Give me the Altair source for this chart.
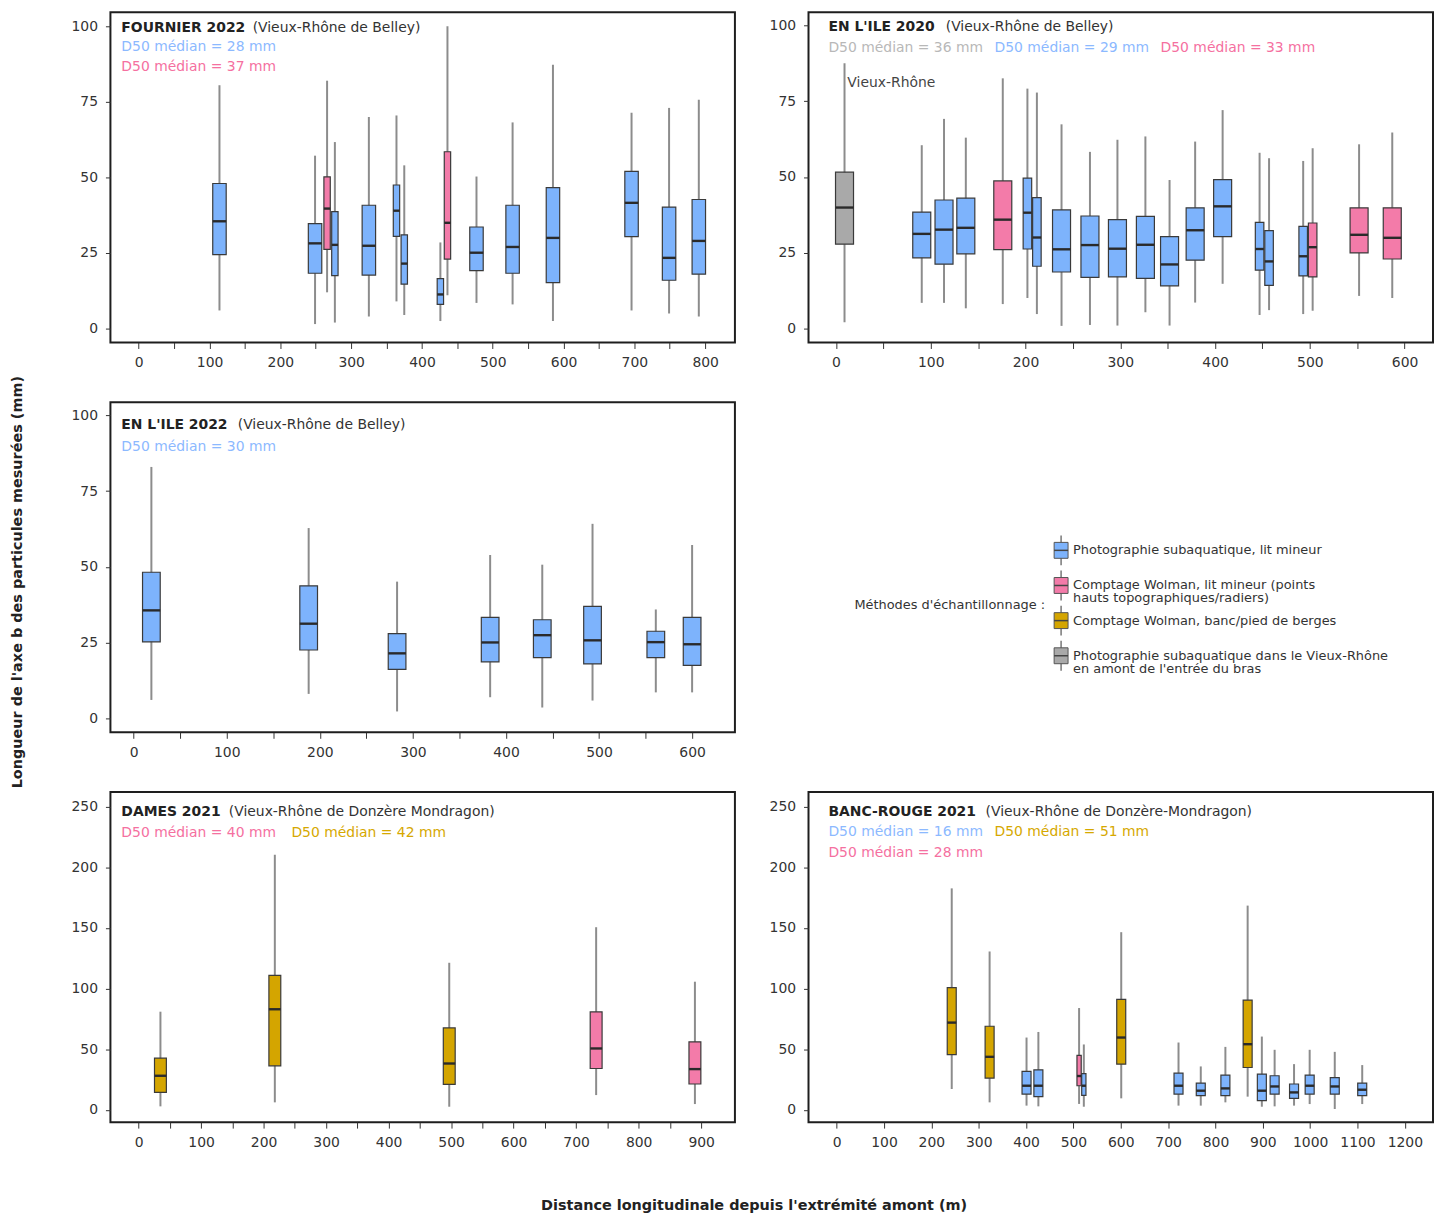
import altair as alt
import pandas as pd

FONT = "DejaVu Sans"

# ---------------- data ----------------
# method codes: P = photo lit mineur, W = Wolman lit mineur, B = Wolman banc, V = photo Vieux-Rhône
METH_CODES = ["P", "W", "B", "V"]
METH_LABELS = [
    "Photographie subaquatique, lit mineur",
    "Comptage Wolman, lit mineur (points\nhauts topographiques/radiers)",
    "Comptage Wolman, banc/pied de berges",
    "Photographie subaquatique dans le Vieux-Rhône\nen amont de l'entrée du bras",
]
METH_FILL = ["#7db3fc", "#f37ba9", "#d4a500", "#a9a9a9"]

# FOURNIER 2022
F22_DIST = [114, 249, 266, 277, 325, 364, 375, 426, 436, 477, 528, 585, 696, 749, 791]
F22_METH = ["P", "P", "W", "P", "P", "P", "P", "P", "W", "P", "P", "P", "P", "P", "P"]
F22_LO = [6, 1.5, 12, 2, 4, 9, 4.5, 2.5, 11, 8.5, 8, 2.5, 6, 5, 4]
F22_Q1 = [24.5, 18.3, 26.2, 17.5, 17.7, 30.5, 14.7, 8, 23, 19.2, 18.3, 15.2, 30.4, 16, 18]
F22_MED = [35.5, 28.2, 39.7, 27.7, 27.4, 39, 21.5, 11.3, 35, 25.1, 27, 30, 41.6, 23.4, 29]
F22_Q3 = [48, 34.7, 50.2, 38.7, 40.8, 47.5, 31, 16.5, 58.5, 33.6, 40.8, 46.6, 52, 40.2, 42.7]
F22_HI = [80.5, 57.2, 82, 61.7, 70, 70.5, 54, 28.5, 100, 50.3, 68.2, 87.3, 71.4, 73, 75.7]

# EN L'ILE 2020
I20_DIST = [9, 90.5, 114, 137, 176, 202, 212, 238, 268, 297, 326.5, 352, 379, 408, 447, 457, 493, 503, 552, 587]
I20_METH = ["V", "P", "P", "P", "W", "P", "P", "P", "P", "P", "P", "P", "P", "P", "P", "P", "P", "W", "W", "W"]
I20_LO = [2, 8.4, 8.4, 6.6, 8, 10, 4.7, 0.8, 1.1, 0.9, 5.3, 0.9, 8.5, 14.7, 4.4, 6, 4.7, 5.8, 10.7, 10]
I20_Q1 = [27.8, 23.3, 21.2, 24.6, 26, 26.2, 20.5, 18.6, 16.8, 17, 16.5, 14, 22.5, 30.3, 19.2, 14.2, 17.3, 17, 24.9, 22.9]
I20_MED = [39.9, 31.2, 32.6, 33.2, 35.9, 38.2, 30, 26.1, 27.5, 26.3, 27.6, 21.1, 32.4, 40.3, 26.2, 22.1, 23.8, 26.8, 30.9, 29.9]
I20_Q3 = [51.6, 38.4, 42.4, 43, 48.7, 49.6, 43.2, 39.1, 37.1, 35.9, 37, 30.3, 39.8, 49.1, 35, 32.3, 33.7, 34.8, 39.8, 39.8]
I20_HI = [87.6, 60.5, 69.2, 63, 82.6, 79.2, 77.9, 67.4, 58.3, 62.3, 63.4, 49, 61.7, 72.1, 58, 56.2, 55.3, 59.5, 60.8, 64.7]

# EN L'ILE 2022
I22_DIST = [19, 188, 283, 383, 439, 493, 561, 600]
I22_METH = ["P"] * 8
I22_LO = [6, 8, 2.2, 6.9, 3.5, 5.8, 8.5, 8.5]
I22_Q1 = [25.2, 22.5, 16.1, 18.6, 20, 17.9, 20, 17.4]
I22_MED = [35.6, 31.2, 21.4, 25, 27.4, 25.7, 25.1, 24.4]
I22_Q3 = [48.2, 43.7, 27.9, 33.3, 32.5, 36.9, 28.7, 33.3]
I22_HI = [83, 62.8, 45.1, 53.9, 50.7, 64.2, 35.9, 57.2]

# DAMES 2021
D21_DIST = [35, 218, 497, 732, 890]
D21_METH = ["B", "B", "B", "W", "W"]
D21_LO = [3, 6.3, 2.7, 12.3, 4.9]
D21_Q1 = [14.5, 36.4, 21.1, 34.2, 21.4]
D21_MED = [28.2, 83, 38.3, 50.7, 33.7]
D21_Q3 = [42.7, 110.9, 67.6, 80.8, 56.1]
D21_HI = [81, 210.3, 121.3, 150.6, 105.7]

# BANC-ROUGE 2021
BR_DIST = [243, 323, 401, 426, 512, 522, 601, 722, 769, 821, 868, 898, 925, 966, 999, 1052, 1110]
BR_METH = ["B", "B", "P", "P", "W", "P", "B", "P", "P", "P", "B", "P", "P", "P", "P", "P", "P"]
BR_LO = [17.3, 6.3, 3.6, 3, 5, 2.7, 9.6, 3.6, 3.6, 6.3, 11, 2.7, 3, 3.6, 4.9, 0.8, 4.9]
BR_Q1 = [45.7, 26.3, 13.1, 11, 20, 12, 37.8, 13.1, 11.8, 11.8, 35, 7.7, 13.1, 9.6, 13.1, 13.1, 11.8]
BR_MED = [72, 43.8, 20, 20, 28, 20, 59.7, 20, 15.9, 17.8, 54.2, 15.9, 19.4, 14.5, 20, 19.4, 16.7]
BR_Q3 = [100.8, 69, 31.8, 33.1, 45, 30, 91.2, 30.4, 22.2, 28.8, 90.6, 29.6, 28.2, 21.4, 28.8, 26.6, 22.2]
BR_HI = [182.6, 130.6, 59.7, 64.3, 84, 54, 146.5, 55.6, 35.9, 52, 168.4, 60.5, 49.6, 37.8, 49.6, 47.9, 37]

# ---------------- style ----------------
PW, PH = 628, 332
FS = 14
BLUE_T, PINK_T, YEL_T, GREY_T = "#8cb9ff", "#f5709f", "#d6a800", "#b8b8b8"
TXT = "#222222"
COLOR = alt.Color("meth:N", scale=alt.Scale(domain=METH_CODES, range=METH_FILL), legend=None)


def build_df(dist, meth, lo, q1, med, q3, hi):
    rows = []
    for i, d in enumerate(dist):
        nearest = min([abs(d - e) for j, e in enumerate(dist) if j != i] or [999])
        hw = 4.5 if nearest < 15 else 9.5
        rows.append(dict(dist=d, meth=meth[i], lo=lo[i], q1=q1[i], med=med[i],
                         q3=q3[i], hi=hi[i], x0=d - hw, x1=d + hw))
    return pd.DataFrame(rows)


def txt(s, px, py, color=TXT, bold=False):
    return alt.Chart(pd.DataFrame({"t": [s]})).mark_text(
        align="left", baseline="middle", font=FONT, fontSize=FS,
        fontWeight="bold" if bold else "normal", color=color
    ).encode(x=alt.value(px), y=alt.value(py), text="t:N")


def panel(df, xdom, ydom, xticks, xstep, yticks, texts, annot=None):
    xs = alt.Scale(domain=xdom, nice=False, zero=False)
    ys = alt.Scale(domain=ydom, nice=False, zero=False)
    xax = alt.Axis(values=xticks, labelExpr=f"datum.value % {xstep} === 0 ? datum.label : ''",
                   format="d", tickSize=6, labelPadding=7, labelFontSize=FS, labelFont=FONT,
                   labelColor="#333", tickColor="#333", domain=False, grid=False,
                   labelOverlap=False, labelFlush=False, minExtent=30, maxExtent=30)
    yax = alt.Axis(values=yticks, tickSize=5, labelPadding=8, labelFontSize=FS, labelFont=FONT,
                   labelColor="#333", tickColor="#333", domain=False, grid=False,
                   labelOverlap=False, labelFlush=False, minExtent=40, maxExtent=40)
    base = alt.Chart(df)
    whisk = base.mark_rule(color="#8c8c8c", strokeWidth=2).encode(
        x=alt.X("dist:Q", scale=xs, axis=xax, title=None),
        y=alt.Y("lo:Q", scale=ys, axis=yax, title=None), y2="hi:Q")
    box = base.mark_rect(stroke="#3a3a3a", strokeWidth=1.2).encode(
        x=alt.X("x0:Q", scale=xs, axis=xax, title=None), x2="x1:Q",
        y=alt.Y("q1:Q", scale=ys, axis=yax, title=None), y2="q3:Q", color=COLOR)
    medl = base.mark_rule(color="#2a2a2a", strokeWidth=2.4).encode(
        x=alt.X("x0:Q", scale=xs, axis=xax, title=None), x2="x1:Q",
        y=alt.Y("med:Q", scale=ys, axis=yax, title=None))
    layers = [whisk, box, medl]
    if annot:
        s, ax_, ay_ = annot
        layers.append(alt.Chart(pd.DataFrame({"t": [s], "ax": [ax_], "ay": [ay_]})).mark_text(
            align="left", baseline="middle", font=FONT, fontSize=FS, color="#444"
        ).encode(x=alt.X("ax:Q", scale=xs, axis=xax, title=None),
                 y=alt.Y("ay:Q", scale=ys, axis=yax, title=None), text="t:N"))
    return alt.layer(*layers, *texts).properties(
        width=PW, height=PH, view=alt.ViewBackground(stroke="#1e1e1e", strokeWidth=2))


T100 = [0, 25, 50, 75, 100]
T250 = [0, 50, 100, 150, 200, 250]

p1 = panel(build_df(F22_DIST, F22_METH, F22_LO, F22_Q1, F22_MED, F22_Q3, F22_HI),
           [-40, 842], [-4.6, 104.6], list(range(0, 801, 50)), 100, T100,
           [txt("FOURNIER 2022", 11, 16, bold=True), txt("(Vieux-Rhône de Belley)", 143, 16, "#333"),
            txt("D50 médian = 28 mm", 11, 35, BLUE_T), txt("D50 médian = 37 mm", 11, 55, PINK_T)])

p2 = panel(build_df(I20_DIST, I20_METH, I20_LO, I20_Q1, I20_MED, I20_Q3, I20_HI),
           [-29, 630], [-4.7, 104.4], list(range(0, 601, 50)), 100, T100,
           [txt("EN L'ILE 2020", 20, 15, bold=True), txt("(Vieux-Rhône de Belley)", 138, 15, "#333"),
            txt("D50 médian = 36 mm", 20, 36, GREY_T), txt("D50 médian = 29 mm", 187, 36, BLUE_T),
            txt("D50 médian = 33 mm", 354, 36, PINK_T)],
           annot=("Vieux-Rhône", 12, 81))

p3 = panel(build_df(I22_DIST, I22_METH, I22_LO, I22_Q1, I22_MED, I22_Q3, I22_HI),
           [-25, 646], [-4.7, 104.4], list(range(0, 601, 50)), 100, T100,
           [txt("EN L'ILE 2022", 11, 23, bold=True), txt("(Vieux-Rhône de Belley)", 128, 23, "#333"),
            txt("D50 médian = 30 mm", 11, 45, BLUE_T)])

p5 = panel(build_df(D21_DIST, D21_METH, D21_LO, D21_Q1, D21_MED, D21_Q3, D21_HI),
           [-45, 954], [-10, 262], list(range(0, 901, 50)), 100, T250,
           [txt("DAMES 2021", 11, 20, bold=True), txt("(Vieux-Rhône de Donzère Mondragon)", 119, 20, "#333"),
            txt("D50 médian = 40 mm", 11, 41, PINK_T), txt("D50 médian = 42 mm", 182, 41, YEL_T)])

p6 = panel(build_df(BR_DIST, BR_METH, BR_LO, BR_Q1, BR_MED, BR_Q3, BR_HI),
           [-59.5, 1259.5], [-10, 262], list(range(0, 1201, 100)), 100, T250,
           [txt("BANC-ROUGE 2021", 20, 20, bold=True), txt("(Vieux-Rhône de Donzère-Mondragon)", 178, 20, "#333"),
            txt("D50 médian = 16 mm", 20, 40, BLUE_T), txt("D50 médian = 51 mm", 187, 40, YEL_T),
            txt("D50 médian = 28 mm", 20, 61, PINK_T)])

# ---------------- legend panel ----------------
leg_df = pd.DataFrame({"idx": list(range(4)), "meth": METH_CODES, "label": METH_LABELS})
ly = alt.Y("idx:Q", scale=alt.Scale(domain=[0, 3], range=[149, 255]), axis=None)
CX = 295
lbase = alt.Chart(leg_df)
l_wh = lbase.mark_rule(color="#777", strokeWidth=1.5, yOffset=-15, y2Offset=15).encode(
    x=alt.value(CX), y=ly, y2="idx:Q")
l_box = lbase.mark_rect(stroke="#555", strokeWidth=1, yOffset=-8, y2Offset=8).encode(
    x=alt.value(CX - 7), x2=alt.value(CX + 7), y=ly, y2="idx:Q", color=COLOR)
l_med = lbase.mark_rule(color="#444", strokeWidth=1.5).encode(
    x=alt.value(CX - 7), x2=alt.value(CX + 7), y=ly)
l_txt = lbase.mark_text(align="left", baseline="middle", font=FONT, fontSize=13,
                        color="#333", lineBreak="\n", lineHeight=13).encode(
    x=alt.value(CX + 12), y=ly, text="label:N")
l_title = alt.Chart(pd.DataFrame({"t": ["Méthodes d'échantillonnage :"]})).mark_text(
    align="right", baseline="middle", font=FONT, fontSize=13, color="#333"
).encode(x=alt.value(CX - 16), y=alt.value(204), text="t:N")
legend = alt.layer(l_wh, l_box, l_med, l_txt, l_title).properties(
    width=PW, height=PH, view=alt.ViewBackground(strokeOpacity=0))

row1 = alt.hconcat(p1, p2, spacing=32)
row2 = alt.hconcat(p3, legend, spacing=32)
row3 = alt.hconcat(p5, p6, spacing=32)

grid = alt.vconcat(row1, row2, row3, spacing=28).properties(
    title=alt.TitleParams("Longueur de l'axe b des particules mesurées (mm)", orient="left",
                          anchor="middle", font=FONT, fontSize=14.5, fontWeight="bold",
                          color=TXT, offset=44))

chart = alt.vconcat(grid).properties(
    title=alt.TitleParams("Distance longitudinale depuis l'extrémité amont (m)", orient="bottom",
                          anchor="middle", font=FONT, fontSize=14.5, fontWeight="bold",
                          color=TXT, offset=46, dx=32),
    padding={"left": 2, "top": 0, "right": 0, "bottom": 0},
).configure_view(stroke="#1e1e1e")

chart.save("out.html", embed_options={"renderer": "svg", "actions": False})
